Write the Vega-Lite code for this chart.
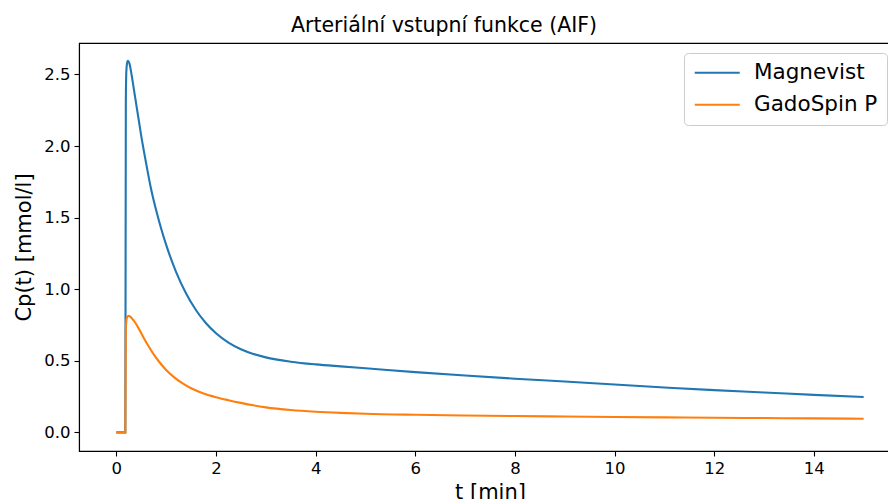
{
  "$schema": "https://vega.github.io/schema/vega-lite/v6.json",
  "autosize": {"type": "none"},
  "padding": {"left": 79, "top": 43, "right": 0, "bottom": 48},
  "width": 822,
  "height": 408,
  "background": "white",
  "title": {"text": "Arteriální vstupní funkce (AIF)", "font": "DejaVu Sans", "fontSize": 20.5, "fontWeight": "normal", "color": "black", "offset": 7, "anchor": "middle", "dx": -46},
  "config": {
    "view": {"stroke": "black", "strokeWidth": 1.1},
    "axis": {"grid": false, "domainColor": "black", "domainWidth": 1.1, "tickColor": "black", "tickWidth": 1.1, "tickSize": 5, "labelFont": "DejaVu Sans", "labelFontSize": 16.5, "labelColor": "black", "labelPadding": 4, "titleFont": "DejaVu Sans", "titleFontSize": 21, "titleFontWeight": "normal", "titleColor": "black"},
    "legend": {"labelFont": "DejaVu Sans", "labelFontSize": 21.5, "labelColor": "black"}
  },
  "datasets": {
    "aif": [
      {"t": 0, "c": 0, "series": "Magnevist"},
      {"t": 0.18, "c": 0, "series": "Magnevist"},
      {"t": 0.19, "c": 2.3, "series": "Magnevist"},
      {"t": 0.2, "c": 2.52, "series": "Magnevist"},
      {"t": 0.215, "c": 2.58, "series": "Magnevist"},
      {"t": 0.23, "c": 2.595, "series": "Magnevist"},
      {"t": 0.26, "c": 2.58, "series": "Magnevist"},
      {"t": 0.3, "c": 2.51, "series": "Magnevist"},
      {"t": 0.35, "c": 2.4, "series": "Magnevist"},
      {"t": 0.4, "c": 2.29, "series": "Magnevist"},
      {"t": 0.5, "c": 2.07, "series": "Magnevist"},
      {"t": 0.6, "c": 1.875, "series": "Magnevist"},
      {"t": 0.7, "c": 1.695, "series": "Magnevist"},
      {"t": 0.8, "c": 1.55, "series": "Magnevist"},
      {"t": 0.9, "c": 1.423, "series": "Magnevist"},
      {"t": 1.0, "c": 1.31, "series": "Magnevist"},
      {"t": 1.2, "c": 1.12, "series": "Magnevist"},
      {"t": 1.4, "c": 0.97, "series": "Magnevist"},
      {"t": 1.6, "c": 0.853, "series": "Magnevist"},
      {"t": 1.8, "c": 0.762, "series": "Magnevist"},
      {"t": 2.0, "c": 0.692, "series": "Magnevist"},
      {"t": 2.25, "c": 0.627, "series": "Magnevist"},
      {"t": 2.5, "c": 0.581, "series": "Magnevist"},
      {"t": 2.75, "c": 0.548, "series": "Magnevist"},
      {"t": 3.0, "c": 0.524, "series": "Magnevist"},
      {"t": 3.5, "c": 0.494, "series": "Magnevist"},
      {"t": 4.0, "c": 0.475, "series": "Magnevist"},
      {"t": 4.5, "c": 0.461, "series": "Magnevist"},
      {"t": 5.0, "c": 0.448, "series": "Magnevist"},
      {"t": 6.0, "c": 0.421, "series": "Magnevist"},
      {"t": 7.0, "c": 0.397, "series": "Magnevist"},
      {"t": 8.0, "c": 0.375, "series": "Magnevist"},
      {"t": 9.0, "c": 0.355, "series": "Magnevist"},
      {"t": 10.0, "c": 0.334, "series": "Magnevist"},
      {"t": 11.0, "c": 0.314, "series": "Magnevist"},
      {"t": 12.0, "c": 0.295, "series": "Magnevist"},
      {"t": 13.0, "c": 0.279, "series": "Magnevist"},
      {"t": 14.0, "c": 0.262, "series": "Magnevist"},
      {"t": 15.0, "c": 0.247, "series": "Magnevist"},
      {"t": 0, "c": 0, "series": "GadoSpin P"},
      {"t": 0.18, "c": 0, "series": "GadoSpin P"},
      {"t": 0.19, "c": 0.72, "series": "GadoSpin P"},
      {"t": 0.21, "c": 0.8, "series": "GadoSpin P"},
      {"t": 0.24, "c": 0.815, "series": "GadoSpin P"},
      {"t": 0.28, "c": 0.808, "series": "GadoSpin P"},
      {"t": 0.35, "c": 0.78, "series": "GadoSpin P"},
      {"t": 0.45, "c": 0.725, "series": "GadoSpin P"},
      {"t": 0.55, "c": 0.66, "series": "GadoSpin P"},
      {"t": 0.65, "c": 0.6, "series": "GadoSpin P"},
      {"t": 0.75, "c": 0.545, "series": "GadoSpin P"},
      {"t": 0.85, "c": 0.497, "series": "GadoSpin P"},
      {"t": 1.0, "c": 0.436, "series": "GadoSpin P"},
      {"t": 1.15, "c": 0.388, "series": "GadoSpin P"},
      {"t": 1.3, "c": 0.349, "series": "GadoSpin P"},
      {"t": 1.5, "c": 0.308, "series": "GadoSpin P"},
      {"t": 1.75, "c": 0.272, "series": "GadoSpin P"},
      {"t": 2.0, "c": 0.246, "series": "GadoSpin P"},
      {"t": 2.25, "c": 0.225, "series": "GadoSpin P"},
      {"t": 2.5, "c": 0.206, "series": "GadoSpin P"},
      {"t": 2.75, "c": 0.189, "series": "GadoSpin P"},
      {"t": 3.0, "c": 0.175, "series": "GadoSpin P"},
      {"t": 3.5, "c": 0.156, "series": "GadoSpin P"},
      {"t": 4.0, "c": 0.144, "series": "GadoSpin P"},
      {"t": 4.5, "c": 0.136, "series": "GadoSpin P"},
      {"t": 5.0, "c": 0.13, "series": "GadoSpin P"},
      {"t": 6.0, "c": 0.123, "series": "GadoSpin P"},
      {"t": 7.0, "c": 0.118, "series": "GadoSpin P"},
      {"t": 8.0, "c": 0.114, "series": "GadoSpin P"},
      {"t": 9.0, "c": 0.111, "series": "GadoSpin P"},
      {"t": 10.0, "c": 0.108, "series": "GadoSpin P"},
      {"t": 11.0, "c": 0.105, "series": "GadoSpin P"},
      {"t": 12.0, "c": 0.102, "series": "GadoSpin P"},
      {"t": 13.0, "c": 0.1, "series": "GadoSpin P"},
      {"t": 14.0, "c": 0.098, "series": "GadoSpin P"},
      {"t": 15.0, "c": 0.0955, "series": "GadoSpin P"}
    ]
  },
  "data": {"name": "aif"},
  "encoding": {
    "x": {"field": "t", "type": "quantitative", "scale": {"domain": [-0.75, 15.75], "nice": false, "zero": false}, "axis": {"values": [0, 2, 4, 6, 8, 10, 12, 14], "title": "t [min]", "titlePadding": 5}},
    "y": {"field": "c", "type": "quantitative", "scale": {"domain": [-0.13, 2.72], "nice": false, "zero": false}, "axis": {"values": [0, 0.5, 1, 1.5, 2, 2.5], "format": ".1f", "title": "Cp(t) [mmol/l]", "titlePadding": 9}},
    "color": {"field": "series", "type": "nominal", "scale": {"domain": ["Magnevist", "GadoSpin P"], "range": ["#1f77b4", "#ff7f0e"]},
      "legend": {"title": null, "orient": "none", "legendX": 605, "legendY": 10, "symbolType": "M-2.5,0H2.5", "symbolSize": 324, "symbolOffset": 13.5, "symbolStrokeWidth": 2, "padding": 9, "rowPadding": 9, "labelOffset": 26, "labelLimit": 400, "labelExpr": "datum.label + '\u00a0\u00a0\u00a0\u00a0\u00a0\u00a0'", "strokeColor": "#cccccc", "fillColor": "white", "cornerRadius": 4}}
  },
  "layer": [
    {"transform": [{"filter": "datum.series === 'Magnevist'"}], "mark": {"type": "line", "strokeWidth": 2.1, "interpolate": "monotone", "clip": true}},
    {"transform": [{"filter": "datum.series === 'GadoSpin P'"}], "mark": {"type": "line", "strokeWidth": 2.1, "interpolate": "monotone", "clip": true}}
  ]
}
